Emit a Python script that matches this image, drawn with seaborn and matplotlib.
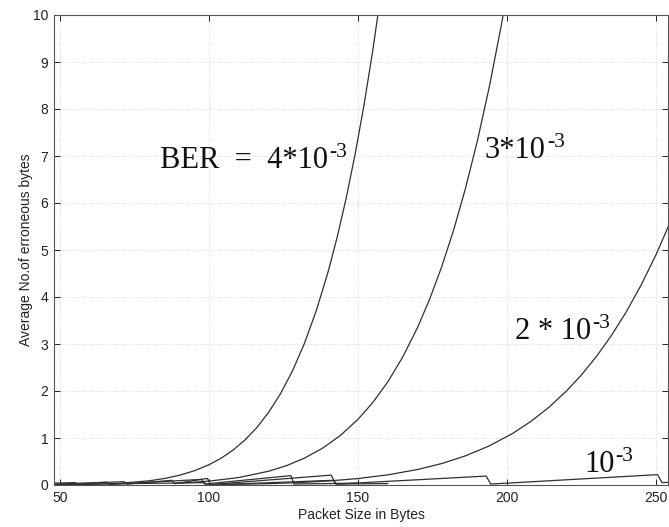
import matplotlib
matplotlib.use("Agg")
import matplotlib.pyplot as plt
import seaborn as sns
import pandas as pd

# Average number of erroneous bytes per packet, by packet size, for four bit error rates
ber4_x = [50, 60, 70, 80, 85, 90, 95, 100, 104, 108, 112, 116, 120, 124, 128, 132, 136, 140,
          143, 146, 149, 152, 155, 158]
ber4_y = [0.003, 0.012, 0.036, 0.09, 0.138, 0.206, 0.301, 0.431, 0.567, 0.739, 0.953, 1.218,
          1.545, 1.943, 2.427, 3.010, 3.709, 4.544, 5.271, 6.096, 7.029, 8.081, 9.266, 10.597]

ber3_x = [90, 100, 110, 120, 126, 132, 138, 144, 150, 155, 160, 165, 170, 174, 178, 182, 186,
          190, 194, 198, 201]
ber3_y = [0.039, 0.082, 0.159, 0.293, 0.412, 0.571, 0.779, 1.050, 1.397, 1.758, 2.195, 2.723,
          3.355, 3.949, 4.630, 5.409, 6.298, 7.309, 8.457, 9.756, 10.84]

ber2_x = [100, 110, 120, 130, 140, 150, 160, 170, 178, 186, 194, 202, 208, 214, 220, 225, 230,
          235, 240, 245, 250, 255]
ber2_y = [0.008, 0.016, 0.029, 0.050, 0.085, 0.137, 0.216, 0.330, 0.455, 0.619, 0.831, 1.102,
          1.353, 1.651, 2.004, 2.345, 2.735, 3.180, 3.684, 4.256, 4.903, 5.63]

ber1_x = [48, 98.5, 99.5, 141.5, 143, 193, 194.5, 250.5, 252, 255]
ber1_y = [0.01, 0.05, 0.0, 0.10, 0.02, 0.19, 0.02, 0.22, 0.05, 0.06]

# residual error teeth near zero for small packets
res_a_x = [48, 55, 56, 65.5, 66.5, 97.5, 98.5, 127.5, 128.5, 150]
res_a_y = [0.04, 0.05, 0.02, 0.06, 0.01, 0.12, 0.02, 0.20, 0.02, 0.04]
res_b_x = [48, 71.5, 72.5, 87.5, 88.5, 99.5, 100.5, 141, 142.5, 160]
res_b_y = [0.02, 0.07, 0.02, 0.10, 0.03, 0.14, 0.01, 0.21, 0.02, 0.03]

x_ticks = [50, 100, 150, 200, 250]
y_ticks = list(range(0, 11))

# curve labels: (x, y, text before exponent)
labels = [(83.5, 6.74, "BER  =  4*10"), (192.6, 6.96, "3*10"),
          (202.7, 3.1, "2 * 10"), (225.8, 0.28, "10")]
exponent = "-3"

sns.set_theme(style="ticks")
plt.rcParams["font.family"] = ["Liberation Sans", "DejaVu Sans"]

W, H = 669, 527
fig = plt.figure(figsize=(W / 100, H / 100), dpi=100)
ax = fig.add_axes([54 / W, 42 / H, 614 / W, 470 / H])

line_kw = dict(color="#303030", linewidth=0.9, estimator=None, sort=False, legend=False, ax=ax)
for xs, ys in [(ber4_x, ber4_y), (ber3_x, ber3_y), (ber2_x, ber2_y), (ber1_x, ber1_y),
               (res_a_x, res_a_y), (res_b_x, res_b_y)]:
    df = pd.DataFrame({"size": xs, "err": ys})
    sns.lineplot(data=df, x="size", y="err", **line_kw)

ax.set_xlim(48, 254)
ax.set_ylim(0, 10)
ax.set_xticks(x_ticks)
ax.set_yticks(y_ticks)
ax.tick_params(direction="in", length=4, width=0.7, top=True, right=True,
               labelsize=10, colors="#222222", pad=4)
ax.grid(True, linestyle=":", linewidth=0.6, color="#d0d0d0")
for s in ax.spines.values():
    s.set_color("#555555")
    s.set_linewidth(0.8)

ax.set_xlabel("Packet Size in Bytes", fontsize=10, color="#222222")
ax.set_ylabel("Average No.of erroneous bytes", fontsize=10, color="#222222")
ax.xaxis.set_label_coords(0.5, -0.05)
ax.yaxis.set_label_coords(-0.034, 0.5)

serif = ["Liberation Serif", "DejaVu Serif"]
fig.canvas.draw()
for lx, ly, txt in labels:
    t = ax.text(lx, ly, txt, fontsize=22, family=serif, color="#111111")
    fig.canvas.draw()
    bb = t.get_window_extent()
    _, by = ax.transData.transform((lx, ly))
    fig.text((bb.x1 + 1) / W, (by + 11) / H, exponent, fontsize=15.5, family=serif,
             color="#111111")

fig.savefig("out.png", dpi=100)
